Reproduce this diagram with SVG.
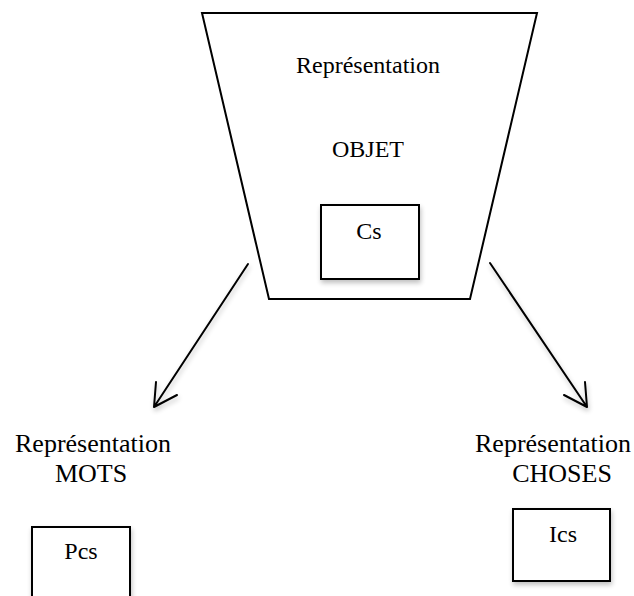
<svg xmlns="http://www.w3.org/2000/svg" width="634" height="596" viewBox="0 0 634 596">
<defs>
<style>
text{font-family:"Liberation Serif","Times New Roman",serif;font-size:24px;fill:#000;text-anchor:middle}
.big{font-size:26px}
.shape{fill:#fff;stroke:#000;stroke-width:2}
.box{fill:#fff;stroke:#000;stroke-width:2;filter:url(#sh)}
.conn{fill:none;stroke:#000;stroke-width:2;stroke-linecap:round;stroke-linejoin:round;filter:url(#sh)}
</style>
<filter id="sh" x="-20%" y="-20%" width="150%" height="150%">
<feGaussianBlur in="SourceAlpha" stdDeviation="2.5"/>
<feOffset dx="1" dy="3" result="b"/>
<feComponentTransfer><feFuncA type="linear" slope="0.25"/></feComponentTransfer>
<feMerge><feMergeNode/><feMergeNode in="SourceGraphic"/></feMerge>
</filter>
</defs>
<rect width="634" height="596" fill="#fff"/>
<g id="objet">
<polygon class="shape" points="202,13 537,13 470,299 269,299"/>
<text x="368" y="73">Représentation</text>
<text x="368" y="157">OBJET</text>
</g>
<g id="cs">
<rect class="box" x="321" y="205" width="98" height="74"/>
<text x="369" y="239">Cs</text>
</g>
<g id="mots">
<text class="big" x="93" y="452">Représentation</text>
<text class="big" x="91" y="482">MOTS</text>
</g>
<g id="pcs">
<rect class="box" x="32" y="527" width="98" height="80"/>
<text x="81" y="559">Pcs</text>
</g>
<g id="choses">
<text class="big" x="553" y="452">Représentation</text>
<text class="big" x="562" y="482">CHOSES</text>
</g>
<g id="ics">
<rect class="box" x="513" y="509" width="97" height="72"/>
<text x="563" y="542">Ics</text>
</g>
<g id="connectors">
<path class="conn" d="M248,264 L154,407 M156,382 L154,407 L177,395"/>
<path class="conn" d="M490,263 L587,407 M585,382 L587,407 L564,395"/>
</g>
</svg>
